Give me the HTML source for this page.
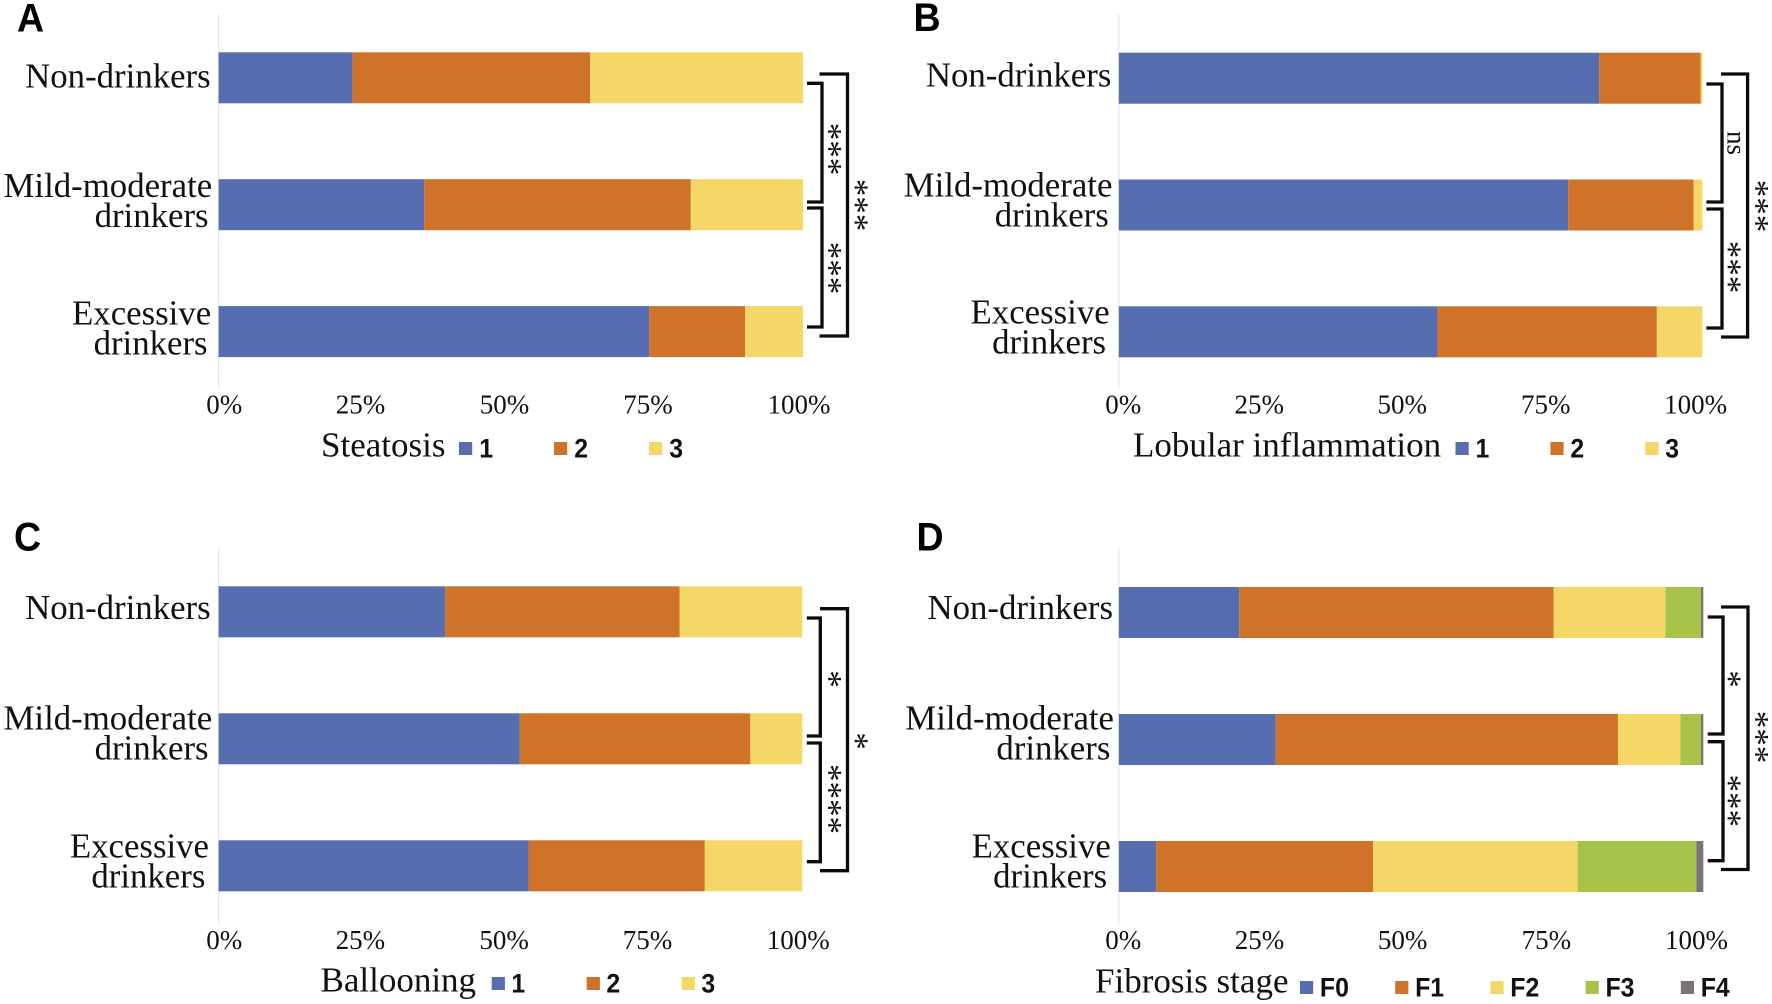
<!DOCTYPE html>
<html lang="en">
<head>
<meta charset="utf-8">
<title>Histology by drinking group</title>
<style>
html,body{margin:0;padding:0;background:#fff;}
svg{display:block;}
</style>
</head>
<body>
<svg id="figure" xmlns="http://www.w3.org/2000/svg" width="1772" height="1004" viewBox="0 0 1772 1004"></svg>
<script>
const categories = ["Non-drinkers", "Mild-moderate drinkers", "Excessive drinkers"];
const tickValues = [0, 25, 50, 75, 100];
const seriesColors = ["#566DAF", "#D0732A", "#F4D766", "#A7C34A", "#7B7474"];

const steatosisTitle = "Steatosis";
const steatosisLegend = ["1", "2", "3"];
const steatosisGrade1 = [22.9, 35.2, 73.7];
const steatosisGrade2 = [40.7, 45.6, 16.4];
const steatosisGrade3 = [36.4, 19.2, 9.9];

const inflammationTitle = "Lobular inflammation";
const inflammationLegend = ["1", "2", "3"];
const inflammationGrade1 = [82.3, 77.0, 54.6];
const inflammationGrade2 = [17.4, 21.5, 37.6];
const inflammationGrade3 = [0.3, 1.5, 7.8];

const ballooningTitle = "Ballooning";
const ballooningLegend = ["1", "2", "3"];
const ballooningGrade1 = [38.8, 51.6, 53.1];
const ballooningGrade2 = [40.2, 39.5, 30.2];
const ballooningGrade3 = [21.0, 8.9, 16.7];

const fibrosisTitle = "Fibrosis stage";
const fibrosisLegend = ["F0", "F1", "F2", "F3", "F4"];
const fibrosisF0 = [20.6, 26.8, 6.4];
const fibrosisF1 = [53.8, 58.6, 37.1];
const fibrosisF2 = [19.1, 10.7, 35.0];
const fibrosisF3 = [6.1, 3.5, 20.3];
const fibrosisF4 = [0.4, 0.4, 1.2];

const significanceA = ["***", "***", "***"];
const significanceB = ["ns", "***", "***"];
const significanceC = ["*", "****", "*"];
const significanceD = ["*", "***", "***"];

const panels = [
  { id: "a", letter: "A", letterX: 17, letterY: 31.7,
    title: steatosisTitle, legend: steatosisLegend, sig: significanceA,
    series: [steatosisGrade1, steatosisGrade2, steatosisGrade3],
    x0: 218.6, w: 584.4, top: 52.3, step: 126.9, axisTop: 14, axisBottom: 387,
    labelRight: [210.7, 212.2, 211.2], labelBase: [87.7, 197.2, 324.7],
    tickBase: 413.3, tickDx: [5.7, -4.2, -6.3, -8.9, -4],
    titleX: 321, titleBase: 456.5, swatchX: 459, swatchStep: 95, swatchTop: 442, labelGap: 20.2, legendBase: 457.7,
    inner: [807, 822], outer: [819.5, 847.5],
    upper: [83.3, 202], lower: [208, 327], whole: [74, 336],
    sigInnerX: 834, sigOuterX: 860.4, sigY: [149, 268, 205] },
  { id: "b", letter: "B", letterX: 913.5, letterY: 31,
    title: inflammationTitle, legend: inflammationLegend, sig: significanceB,
    series: [inflammationGrade1, inflammationGrade2, inflammationGrade3],
    x0: 1118.8, w: 583.6, top: 52.7, step: 126.8, axisTop: 14, axisBottom: 387,
    labelRight: [1111.4, 1112.4, 1109.7], labelBase: [86.7, 196.5, 323.5],
    tickBase: 413.3, tickDx: [4.5, -5.4, -8.4, -10.8, -6.8],
    titleX: 1133, titleBase: 456.5, swatchX: 1455.5, swatchStep: 94.9, swatchTop: 442, labelGap: 20, legendBase: 457.7,
    inner: [1706.4, 1722], outer: [1721, 1747.6],
    upper: [84, 202], lower: [209, 328], whole: [74, 337],
    sigInnerX: 1733.5, sigOuterX: 1761, sigY: [143, 267, 206] },
  { id: "c", letter: "C", letterX: 14, letterY: 550.7,
    title: ballooningTitle, legend: ballooningLegend, sig: significanceC,
    series: [ballooningGrade1, ballooningGrade2, ballooningGrade3],
    x0: 218.6, w: 583.7, top: 586.3, step: 127, axisTop: 548, axisBottom: 925,
    labelRight: [210.7, 212.2, 209], labelBase: [619, 729.7, 857.5],
    tickBase: 948.9, tickDx: [5.7, -4.2, -6.3, -8.9, -4],
    titleX: 320.5, titleBase: 991.5, swatchX: 491.7, swatchStep: 95, swatchTop: 977, labelGap: 19.7, legendBase: 992.4,
    inner: [806.8, 820.3], outer: [820, 847.5],
    upper: [618, 736], lower: [743, 861.7], whole: [608.7, 870.7],
    sigInnerX: 834, sigOuterX: 860.4, sigY: [679, 799, 741] },
  { id: "d", letter: "D", letterX: 916.5, letterY: 550.7,
    title: fibrosisTitle, legend: fibrosisLegend, sig: significanceD,
    series: [fibrosisF0, fibrosisF1, fibrosisF2, fibrosisF3, fibrosisF4],
    x0: 1118.8, w: 584.5, top: 587, step: 127, axisTop: 548, axisBottom: 925,
    labelRight: [1113, 1114, 1110.8], labelBase: [619, 729.7, 857.5],
    tickBase: 948.9, tickDx: [4.5, -5.4, -8.4, -10.8, -6.8],
    titleX: 1095, titleBase: 992.4, swatchX: 1300, swatchStep: 95.2, swatchTop: 981, labelGap: 19.9, legendBase: 996.4,
    inner: [1707.7, 1723], outer: [1721, 1748],
    upper: [617, 734], lower: [741.7, 860.7], whole: [607, 869.5],
    sigInnerX: 1733.5, sigOuterX: 1761, sigY: [679, 800.7, 737] }
];

const SVGNS = "http://www.w3.org/2000/svg";
const SERIF = '"Liberation Serif", serif';
const SANS = '"Liberation Sans", sans-serif';
const BAR_H = 51;
const figure = document.getElementById("figure");

function make(parent, tag, attrs, content) {
  const el = document.createElementNS(SVGNS, tag);
  for (const k in attrs) el.setAttribute(k, attrs[k]);
  if (content !== undefined) el.textContent = content;
  parent.appendChild(el);
  return el;
}

function drawSig(g, p, text, x, y, name) {
  const isStars = text.indexOf("*") === 0;
  const size = isStars ? 35 : 27;
  const shift = isStars ? 16 : 6;
  const el = make(g, "text", {
    x: 0, y: shift, "text-anchor": "middle",
    transform: "translate(" + x + "," + y + ") rotate(90)",
    "font-family": SERIF, "font-size": size, fill: "#111"
  }, text);
  
  
}

function drawBracket(g, xs, ys, name) {
  const d = "M" + xs[0] + "," + ys[0] + " H" + xs[1] + " V" + ys[1] + " H" + xs[0];
  const el = make(g, "path", { d: d, fill: "none", stroke: "#0a0a0a", "stroke-width": 3.3 });
  
  
}

panels.forEach(function (p) {
  const xScale = function (v) { return p.x0 + v / 100 * p.w; };
  const yScale = function (i) { return p.top + i * p.step; };

  const g = make(figure, "g", {});
  
  

  const letter = make(g, "text", {
    transform: "translate(" + p.letterX + "," + p.letterY + ") scale(0.95,1)",
    "font-family": SANS, "font-weight": "bold", "font-size": 39.5, fill: "#000"
  }, p.letter);
  
  

  const axis = make(g, "line", { x1: p.x0, x2: p.x0, y1: p.axisTop, y2: p.axisBottom, stroke: "#e3e3e3", "stroke-width": 1 });
  
  

  categories.forEach(function (cat, i) {
    let cum = 0;
    p.series.forEach(function (values, s) {
      const rect = make(g, "rect", {
        x: xScale(cum), y: yScale(i),
        width: xScale(cum + values[i]) - xScale(cum), height: BAR_H,
        fill: seriesColors[s]
      });
      
      
      cum += values[i];
    });

    const words = cat.split(" ");
    words.forEach(function (word, n) {
      const label = make(g, "text", {
        x: p.labelRight[i] - n * 3.6, y: p.labelBase[i] + n * 30,
        "text-anchor": "end", "font-family": SERIF, "font-size": 34.8, fill: "#111"
      }, word);
      
      
    });
  });

  tickValues.forEach(function (v, t) {
    const tick = make(g, "text", {
      x: xScale(v) + p.tickDx[t], y: p.tickBase, "text-anchor": "middle",
      "font-family": SERIF, "font-size": 27, fill: "#111"
    }, v + "%");
    
    
  });

  const title = make(g, "text", { x: p.titleX, y: p.titleBase, "font-family": SERIF, "font-size": 35, fill: "#111" }, p.title);
  
  

  p.legend.forEach(function (name, s) {
    const sx = p.swatchX + s * p.swatchStep;
    const swatch = make(g, "rect", { x: sx, y: p.swatchTop, width: 13.2, height: 13, fill: seriesColors[s] });
    
    
    const entry = make(g, "text", {
      transform: "translate(" + (sx + p.labelGap) + "," + p.legendBase + ") scale(0.92,1)",
      "font-family": SANS, "font-weight": "bold", "font-size": 27, fill: "#111"
    }, name);
    
    
  });

  drawBracket(g, p.inner, p.upper, "bracket-upper");
  drawBracket(g, p.inner, p.lower, "bracket-lower");
  drawBracket(g, p.outer, p.whole, "bracket-outer");
  drawSig(g, p, p.sig[0], p.sigInnerX, p.sigY[0], "significance-upper");
  drawSig(g, p, p.sig[1], p.sigInnerX, p.sigY[1], "significance-lower");
  drawSig(g, p, p.sig[2], p.sigOuterX, p.sigY[2], "significance-outer");
});
</script>
</body>
</html>
